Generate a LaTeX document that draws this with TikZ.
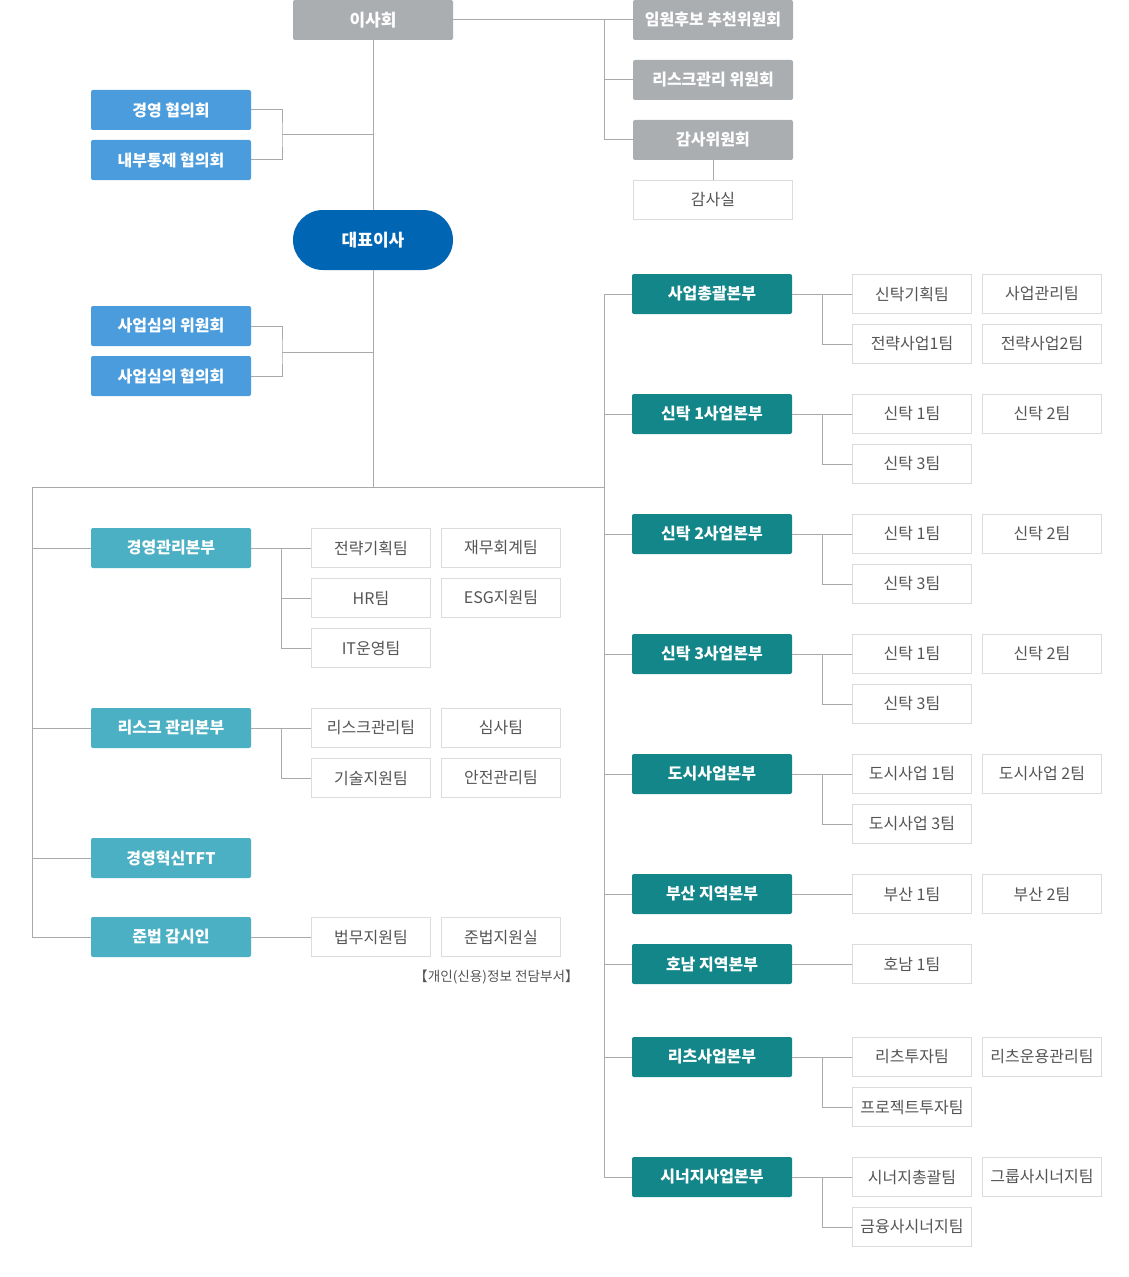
\documentclass[tikz,border=0pt]{standalone}
\usepackage{fontspec}
\setmainfont{Noto Sans CJK KR}
\usetikzlibrary{shadows}

\definecolor{cBoard}{HTML}{ABAEB1}
\definecolor{cCouncil}{HTML}{4A9CDD}
\definecolor{cCeo}{HTML}{0066B4}
\definecolor{cMgmt}{HTML}{4BB0C3}
\definecolor{cBiz}{HTML}{13868A}
\definecolor{cLine}{HTML}{AAAAAA}
\definecolor{cEdge}{HTML}{DCDCDC}
\definecolor{cText}{HTML}{555555}

\tikzset{
    unitbox/.style={rectangle, rounded corners=1.5pt, inner sep=0pt, text=white,
        minimum width=120pt, minimum height=30pt,
        font=\fontsize{12pt}{14pt}\selectfont\bfseries},
    boardbox/.style={unitbox, fill=cBoard},
    councilbox/.style={unitbox, fill=cCouncil},
    mgmtbox/.style={unitbox, fill=cMgmt},
    bizbox/.style={unitbox, fill=cBiz},
    teambox/.style={rectangle, draw=cEdge, line width=0.75pt, fill=white, inner sep=0pt,
        minimum width=89pt, minimum height=29pt, text=cText,
        drop shadow={shadow xshift=0.6pt, shadow yshift=-0.6pt, fill=black, opacity=0.08},
        font=\fontsize{12pt}{14pt}\selectfont},
    link/.style={draw=cLine, line width=0.75pt}
}

\begin{document}
\begin{tikzpicture}[x=0.75pt, y=-0.75pt]
    \useasboundingbox (0,0) rectangle (1128,1277);

    % board, committees, ceo
    \node [boardbox, font=\fontsize{12.75pt}{15pt}\selectfont\bfseries] (board) at (373,20) {이사회};
    \node [boardbox] (c1) at (713,20) {임원후보 추천위원회};
    \node [boardbox] (c2) at (713,80) {리스크관리 위원회};
    \node [boardbox] (c3) at (713,140) {감사위원회};
    \node [teambox, minimum width=119pt] (audit) at (713,200) {감사실};
    \node [rectangle, rounded corners=22.5pt, fill=cCeo, text=white, minimum width=120pt, minimum height=45pt,
        font=\fontsize{12.75pt}{15pt}\selectfont\bfseries] (ceo) at (373,240) {대표이사};

    \node [councilbox] (m1) at (171,110) {경영 협의회};
    \node [councilbox] (m2) at (171,160) {내부통제 협의회};
    \node [councilbox] (m3) at (171,326) {사업심의 위원회};
    \node [councilbox] (m4) at (171,376) {사업심의 협의회};

    % left divisions
    \node [mgmtbox] (d1) at (171,548) {경영관리본부};
    \node [mgmtbox] (d2) at (171,728) {리스크 관리본부};
    \node [mgmtbox] (d3) at (171,858) {경영혁신TFT};
    \node [mgmtbox] (d4) at (171,937) {준법 감시인};

    \node [teambox] (d1a) at (371,548) {전략기획팀};
    \node [teambox] (d1b) at (501,548) {재무회계팀};
    \node [teambox] (d1c) at (371,598) {HR팀};
    \node [teambox] (d1d) at (501,598) {ESG지원팀};
    \node [teambox] (d1e) at (371,648) {IT운영팀};
    \node [teambox] (d2a) at (371,728) {리스크관리팀};
    \node [teambox] (d2b) at (501,728) {심사팀};
    \node [teambox] (d2c) at (371,778) {기술지원팀};
    \node [teambox] (d2d) at (501,778) {안전관리팀};
    \node [teambox] (d4a) at (371,937) {법무지원팀};
    \node [teambox] (d4b) at (501,937) {준법지원실};
    \node [text=cText, anchor=east, inner sep=0pt, font=\fontsize{10.2pt}{12pt}\selectfont] (note) at (579,977) {【개인(신용)정보 전담부서】};

    % right divisions
    \node [bizbox] (b1) at (712,294) {사업총괄본부};
    \node [bizbox] (b2) at (712,414) {신탁 1사업본부};
    \node [bizbox] (b3) at (712,534) {신탁 2사업본부};
    \node [bizbox] (b4) at (712,654) {신탁 3사업본부};
    \node [bizbox] (b5) at (712,774) {도시사업본부};
    \node [bizbox] (b6) at (712,894) {부산 지역본부};
    \node [bizbox] (b7) at (712,964) {호남 지역본부};
    \node [bizbox] (b8) at (712,1057) {리츠사업본부};
    \node [bizbox] (b9) at (712,1177) {시너지사업본부};

    \node [teambox] (b1a) at (912,294) {신탁기획팀};
    \node [teambox] (b1b) at (1042,294) {사업관리팀};
    \node [teambox] (b1c) at (912,344) {전략사업1팀};
    \node [teambox] (b1d) at (1042,344) {전략사업2팀};
    \node [teambox] (b2a) at (912,414) {신탁 1팀};
    \node [teambox] (b2b) at (1042,414) {신탁 2팀};
    \node [teambox] (b2c) at (912,464) {신탁 3팀};
    \node [teambox] (b3a) at (912,534) {신탁 1팀};
    \node [teambox] (b3b) at (1042,534) {신탁 2팀};
    \node [teambox] (b3c) at (912,584) {신탁 3팀};
    \node [teambox] (b4a) at (912,654) {신탁 1팀};
    \node [teambox] (b4b) at (1042,654) {신탁 2팀};
    \node [teambox] (b4c) at (912,704) {신탁 3팀};
    \node [teambox] (b5a) at (912,774) {도시사업 1팀};
    \node [teambox] (b5b) at (1042,774) {도시사업 2팀};
    \node [teambox] (b5c) at (912,824) {도시사업 3팀};
    \node [teambox] (b6a) at (912,894) {부산 1팀};
    \node [teambox] (b6b) at (1042,894) {부산 2팀};
    \node [teambox] (b7a) at (912,964) {호남 1팀};
    \node [teambox] (b8a) at (912,1057) {리츠투자팀};
    \node [teambox] (b8b) at (1042,1057) {리츠운용관리팀};
    \node [teambox] (b8c) at (912,1107) {프로젝트투자팀};
    \node [teambox] (b9a) at (912,1177) {시너지총괄팀};
    \node [teambox] (b9b) at (1042,1177) {그룹사시너지팀};
    \node [teambox] (b9c) at (912,1227) {금융사시너지팀};

    % connectors
    \coordinate (spineL) at (32,487);
    \coordinate (spineR) at (604,487);
    \coordinate (kA) at (282,135);
    \coordinate (kB) at (282,352);

    \draw [link] (board.east) -- (c1.west);
    \draw [link] (spineR |- c1.west) |- (c3.west);
    \draw [link] (spineR |- c2.west) -- (c2.west);
    \draw [link] (c3.south) -- (audit.north);

    \draw [link] (board.south) -- (ceo.north);
    \draw [link] (ceo.south) -- (ceo.south |- spineL);
    \draw [link] (m1.east) -| (kA) |- (m2.east);
    \draw [link] (kA) -- (kA -| board.south);
    \draw [link] (m3.east) -| (kB) |- (m4.east);
    \draw [link] (kB) -- (kB -| ceo.south);

    \draw [link] (spineR |- b1.west) -- (spineR) -- (spineL) |- (d4.west);
    \draw [link] (spineR) -- (spineR |- b9.west);
    \foreach \n in {1,2,3} \draw [link] (spineL |- d\n.west) -- (d\n.west);
    \foreach \n in {1,...,9} \draw [link] (spineR |- b\n.west) -- (b\n.west);

    \draw [link] (d1.east) -- (d1a.west);
    \draw [link] (d1a.west) ++(-30,0) |- (d1e.west);
    \draw [link] (d1a.west) ++(-30,0) |- (d1c.west);
    \draw [link] (d2.east) -- (d2a.west);
    \draw [link] (d2a.west) ++(-30,0) |- (d2c.west);
    \draw [link] (d4.east) -- (d4a.west);

    \foreach \n in {1,2,3,4,5,8,9} {
        \draw [link] (b\n.east) -- (b\n a.west);
        \draw [link] (b\n a.west) ++(-30,0) |- (b\n c.west);
    }
    \draw [link] (b6.east) -- (b6a.west);
    \draw [link] (b7.east) -- (b7a.west);
\end{tikzpicture}
\end{document}
